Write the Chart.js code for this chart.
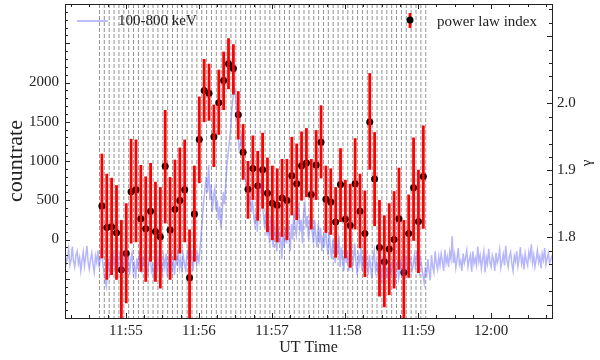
<!DOCTYPE html>
<html>
<head>
<meta charset="utf-8">
<script src="https://cdn.jsdelivr.net/npm/chart.js@4.4.0/dist/chart.umd.min.js"></script>
<style>
html, body { margin: 0; padding: 0; background: #fff; }
</style>
</head>
<body>
<canvas id="chart" width="600" height="360"></canvas>
<script>
// time axis is seconds after 11:54:00 UT
const xMin = 10, xMax = 410;
const countMin = -1000, countMax = 3000;
const gammaMin = 1.68, gammaMax = 2.148;

// 100-800 keV light curve, 1 s samples starting at t = 10 s (one row = 10 s)
const lcStart = 10, lcStep = 1;
const lcCounts = [
  -180,-300,-240,-120,-330,-260,-90,-280,-350,-200,
  -150,-310,-230,-400,-270,-160,-340,-220,-80,-290,
  -380,-250,-170,-320,-420,-210,-290,-140,-360,-240,
  -110,-300,-420,-520,-600,-380,-250,-460,-180,-330,
  -220,-400,-120,-280,-350,-160,-310,-230,-420,-190,
  -300,-360,-200,-450,-260,-170,-400,-320,-500,-240,
  -380,-150,-290,-430,-220,-350,-110,-310,-460,-270,
  -190,-400,-330,-520,-240,-160,-370,-280,-90,-300,
  -410,-230,-350,-180,-470,-260,-320,-140,-390,-280,
  -450,-200,-330,-120,-360,-250,-420,-190,-300,-380,
  -220,-150,-330,-260,-180,-400,-240,-110,-300,-200,
  -280,-100,100,300,500,650,800,600,950,500,
  700,350,550,650,380,500,250,420,150,300,
  600,450,700,950,1100,1250,1400,1650,1800,1930,
  1850,1650,1400,1150,1200,1350,1050,900,800,700,
  600,450,550,350,500,300,200,350,100,450,
  650,720,500,300,150,350,50,200,-50,300,
  100,-100,200,0,-150,150,-50,100,-250,50,
  -100,150,-50,250,50,-150,200,0,350,150,
  50,300,400,100,250,-50,350,450,150,300,
  0,200,400,100,-50,250,50,-100,200,-50,
  150,-150,50,-100,200,-50,-200,100,-100,-250,
  0,-150,-300,-50,-200,50,-350,-100,-250,-400,
  -50,-300,-150,-400,-200,-100,-350,-250,-50,-300,
  -450,-200,-300,-100,-400,-250,-350,-150,-300,-450,
  -200,-350,-500,-250,-150,-400,-300,-450,-200,-350,
  -550,-300,-400,-200,-500,-350,-600,-300,-450,-250,
  -400,-550,-350,-300,-500,-400,-250,-450,-350,-500,
  -200,-380,-450,-300,-250,-400,-320,-200,-380,-150,
  -300,-420,-250,-350,-450,-550,-350,-480,-250,-400,
  -520,-200,-350,-420,-150,-300,-380,-220,-330,-180,
  -280,-400,-130,-300,-220,-350,-160,-250,40,-300,
  -190,-360,-250,-110,-320,-270,-400,-180,-300,-230,
  -140,-350,-260,-200,-410,-150,-310,-240,-330,-90,
  -280,-200,-370,-250,-150,-420,-230,-310,-120,-290,
  -350,-200,-260,-400,-170,-300,-240,-130,-360,-280,
  -190,-330,-80,-270,-350,-220,-160,-300,-400,-210,
  -280,-150,-340,-250,-100,-310,-230,-380,-180,-270,
  -330,-160,-240,-60,-300,-200,-350,-250,-140,-290,
  -220,-370,-180,-260,-110,-320,-240,-170,-300,-260,
  -200
];

// spectral fit bins: 4 s wide, first edge at t = 38.3 s
const binStart = 38.3, binWidth = 4;
const gamma = [
  1.847,1.815,1.816,1.807,1.752,1.776,1.868,1.871,1.828,1.813,
  1.839,1.809,1.801,1.906,1.811,1.842,1.855,1.871,1.740,1.835,
  1.946,2.019,2.015,1.950,2.001,2.034,2.059,2.052,1.983,1.927,
  1.872,1.903,1.877,1.901,1.866,1.851,1.848,1.859,1.855,1.892,
  1.880,1.907,1.911,1.864,1.908,1.942,1.857,1.853,1.823,1.879,
  1.827,1.818,1.880,1.839,1.806,1.972,1.887,1.785,1.764,1.783,
  1.797,1.828,1.748,1.806,1.874,1.824,1.891
];
const gammaHi = [
  1.925,1.895,1.889,1.878,1.826,1.851,1.947,1.946,1.908,1.891,
  1.911,1.883,1.875,1.990,1.890,1.916,1.934,1.946,1.812,1.907,
  2.010,2.066,2.059,1.998,2.050,2.077,2.097,2.088,2.018,1.969,
  1.914,1.952,1.929,1.956,1.919,1.907,1.903,1.917,1.917,1.950,
  1.940,1.958,1.963,1.917,1.960,1.997,1.907,1.903,1.875,1.933,
  1.886,1.880,1.948,1.895,1.870,2.045,1.957,1.856,1.833,1.851,
  1.869,1.904,1.826,1.864,1.949,1.901,1.967
];
const gammaLo = [
  1.769,1.737,1.744,1.737,1.660,1.702,1.791,1.793,1.749,1.734,
  1.764,1.734,1.724,1.821,1.737,1.766,1.776,1.793,1.660,1.764,
  1.881,1.972,1.974,1.905,1.953,1.990,2.021,2.013,1.946,1.886,
  1.828,1.856,1.825,1.843,1.808,1.796,1.793,1.801,1.796,1.833,
  1.826,1.855,1.860,1.812,1.856,1.888,1.807,1.804,1.770,1.823,
  1.769,1.755,1.812,1.784,1.741,1.901,1.817,1.712,1.696,1.714,
  1.724,1.752,1.660,1.740,1.795,1.747,1.813
];

const serif = "'Liberation Serif', 'DejaVu Serif', serif";
const blue = 'rgba(110,110,245,0.5)';

const lcPoints = lcCounts.map((c, i) => ({ x: lcStart + i * lcStep, y: c }));
const gammaPoints = gamma.map((g, i) => ({ x: binStart + binWidth * (i + 0.5), y: g }));

function timeLabel(t) {
  const m = 54 + Math.round(t / 60);
  return m >= 60 ? '12:' + String(m - 60).padStart(2, '0') : '11:' + m;
}

// strip the automatic label overhang so the plot box sits where it should
function noPad(s) {
  s.paddingTop = 0; s.paddingBottom = 0; s.paddingLeft = 0; s.paddingRight = 0;
}

// dashed bin edges, behind everything
const binLines = {
  id: 'binLines',
  beforeDatasetsDraw(chart) {
    const { ctx, chartArea: a, scales: { x } } = chart;
    ctx.save();
    ctx.strokeStyle = '#777';
    ctx.lineWidth = 0.8;
    ctx.setLineDash([4, 2]);
    for (let i = 0; i <= gamma.length; i++) {
      const px = x.getPixelForValue(binStart + binWidth * i);
      ctx.beginPath();
      ctx.moveTo(px, a.top);
      ctx.lineTo(px, a.bottom);
      ctx.stroke();
    }
    ctx.restore();
  }
};

// red error bars, drawn after the light curve and before the dots
const errorBars = {
  id: 'errorBars',
  afterDatasetDraw(chart, args) {
    if (args.index !== 0) return;
    const { ctx, chartArea: a, scales: { x, y2 } } = chart;
    ctx.save();
    ctx.beginPath();
    ctx.rect(a.left, a.top, a.right - a.left, a.bottom - a.top);
    ctx.clip();
    ctx.strokeStyle = '#ff0000';
    ctx.lineWidth = 2.8;
    gamma.forEach((g, i) => {
      const px = x.getPixelForValue(gammaPoints[i].x);
      ctx.beginPath();
      ctx.moveTo(px, y2.getPixelForValue(gammaHi[i]));
      ctx.lineTo(px, y2.getPixelForValue(gammaLo[i]));
      ctx.stroke();
    });
    ctx.restore();
  }
};

// frame, inward ticks, legend and right label
const frameAndLegend = {
  id: 'frameAndLegend',
  afterDraw(chart) {
    const { ctx, chartArea: a, scales: { x, y, y2 } } = chart;
    ctx.save();
    ctx.strokeStyle = '#222';
    ctx.lineWidth = 1;
    const seg = (x1, y1, x2, y2_) => { ctx.beginPath(); ctx.moveTo(x1, y1); ctx.lineTo(x2, y2_); ctx.stroke(); };
    ctx.strokeRect(Math.round(a.left) + 0.5, Math.round(a.top) + 0.5,
      Math.round(a.right - a.left), Math.round(a.bottom - a.top));

    for (let t = 15; t < xMax; t += 15) {
      if (t < xMin) continue;
      const px = Math.round(x.getPixelForValue(t)) + 0.5;
      const len = t % 60 === 0 ? 5 : 3;
      seg(px, a.bottom, px, a.bottom - len);
      seg(px, a.top, px, a.top + len);
    }
    for (let c = -900; c < countMax; c += 100) {
      const py = Math.round(y.getPixelForValue(c)) + 0.5;
      const len = c % 500 === 0 ? 5 : 3;
      seg(a.left, py, a.left + len, py);
    }
    for (let k = 85; k <= 107; k++) {
      const g = k / 50;
      if (g < gammaMin || g > gammaMax) continue;
      const py = Math.round(y2.getPixelForValue(g)) + 0.5;
      const len = k % 5 === 0 ? 5 : 3;
      seg(a.right, py, a.right - len, py);
    }

    // legend: light curve
    ctx.strokeStyle = blue;
    ctx.lineWidth = 1.8;
    seg(77, 21, 108, 21);
    ctx.fillStyle = '#222';
    ctx.font = '15px ' + serif;
    ctx.textBaseline = 'middle';
    ctx.textAlign = 'left';
    ctx.fillText('100-800 keV', 118, 21);
    // legend: power law index
    ctx.strokeStyle = '#ff0000';
    ctx.lineWidth = 2.8;
    seg(410, 13, 410, 28);
    ctx.fillStyle = '#000';
    ctx.beginPath();
    ctx.arc(410, 20, 3.5, 0, Math.PI * 2);
    ctx.fill();
    ctx.fillStyle = '#222';
    ctx.fillText('power law index', 437, 22);

    // right axis label
    ctx.translate(587, 163);
    ctx.rotate(-Math.PI / 2);
    ctx.textAlign = 'center';
    ctx.font = '15px ' + serif;
    ctx.fillText('\u03b3', 0, 0);
    ctx.restore();
  }
};

new Chart(document.getElementById('chart'), {
  type: 'line',
  data: {
    datasets: [
      {
        label: '100-800 keV',
        data: lcPoints,
        yAxisID: 'y',
        borderColor: blue,
        borderWidth: 1.5,
        pointRadius: 0,
        tension: 0,
        fill: false
      },
      {
        label: 'power law index',
        data: gammaPoints,
        yAxisID: 'y2',
        showLine: false,
        pointRadius: 3.5,
        pointBackgroundColor: '#000',
        pointBorderWidth: 0
      }
    ]
  },
  options: {
    responsive: false,
    animation: false,
    devicePixelRatio: 1,
    layout: { padding: { top: 3, left: 0, right: 0, bottom: 0 } },
    plugins: { legend: { display: false }, tooltip: { enabled: false } },
    scales: {
      x: {
        type: 'linear',
        min: xMin,
        max: xMax,
        afterFit: s => { s.height = 42; noPad(s); },
        grid: { display: false, drawTicks: false },
        border: { display: false },
        ticks: {
          stepSize: 60,
          includeBounds: false,
          maxRotation: 0,
          padding: 4,
          color: '#222',
          font: { family: serif, size: 15 },
          callback: v => (v % 60 === 0 ? timeLabel(v) : '')
        },
        title: {
          display: true,
          text: 'UT Time',
          color: '#222',
          padding: 0,
          font: { family: serif, size: 16, lineHeight: 1.5 }
        }
      },
      y: {
        position: 'left',
        min: countMin,
        max: countMax,
        afterFit: s => { s.width = 65; noPad(s); },
        grid: { display: false, drawTicks: false },
        border: { display: false },
        ticks: {
          stepSize: 500,
          padding: 6,
          color: '#222',
          font: { family: serif, size: 15 },
          callback: v => (v >= 0 && v <= 2000 ? String(v) : '')
        },
        title: {
          display: true,
          text: 'countrate',
          color: '#222',
          padding: 0,
          font: { family: serif, size: 22, lineHeight: 1.45 }
        }
      },
      y2: {
        position: 'right',
        min: gammaMin,
        max: gammaMax,
        afterFit: s => { s.width = 48; noPad(s); },
        grid: { display: false, drawTicks: false },
        border: { display: false },
        ticks: {
          stepSize: 0.1,
          includeBounds: false,
          padding: 5,
          color: '#222',
          font: { family: serif, size: 15 },
          callback: v => {
            const r = Math.round(v * 10) / 10;
            return (Math.abs(v - r) < 1e-6 && r >= 1.8 && r <= 2.0) ? r.toFixed(1) : '';
          }
        }
      }
    }
  },
  plugins: [binLines, errorBars, frameAndLegend]
});
</script>
</body>
</html>
